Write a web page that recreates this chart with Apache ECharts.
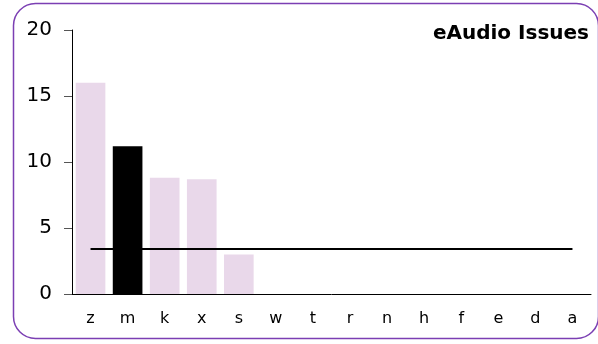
<!DOCTYPE html>
<html><head><meta charset="utf-8">
<script src="https://cdn.jsdelivr.net/npm/echarts@6/dist/echarts.min.js"></script>
<style>html,body{margin:0;padding:0;background:#fff}#c{width:598px;height:344px}</style>
</head><body><div id="c"></div>
<script>
var categories = ['z','m','k','x','s','w','t','r','n','h','f','e','d','a'];
var issues = [16.0, 11.2, 8.8, 8.7, 3.0, 0, 0, 0, 0, 0, 0, 0, 0, 0];
var highlightIndex = 1;
var averageLine = [3.4, 3.4, 3.4, 3.4, 3.4, 3.4, 3.4, 3.4, 3.4, 3.4, 3.4, 3.4, 3.4, 3.4];
var yTicks = [0, 5, 10, 15, 20];

var chart = echarts.init(document.getElementById('c'), null, {renderer: 'canvas'});
var font = 'Verdana, "DejaVu Sans", sans-serif';
chart.setOption({
  animation: false,
  title: {
    text: 'eAudio Issues', right: 4, top: 19,
    textStyle: {fontFamily: font, fontWeight: 'bold', fontSize: 20, color: '#000'}
  },
  graphic: [{
    type: 'rect', left: 11, top: 1,
    shape: {width: 585, height: 335, r: 22},
    style: {fill: 'none', stroke: '#7b3fb3', lineWidth: 1.5},
    silent: true
  }],
  grid: {left: 72, right: 7, top: 30, bottom: 50},
  xAxis: {
    type: 'category', data: categories,
    axisLine: {lineStyle: {color: '#000', width: 1}},
    axisTick: {show: false},
    axisLabel: {fontFamily: font, fontSize: 16, color: '#000', margin: 17}
  },
  yAxis: {
    type: 'value', min: yTicks[0], max: yTicks[yTicks.length-1], interval: 5,
    axisLine: {show: true, lineStyle: {color: '#000', width: 1}},
    axisTick: {show: true, inside: false, length: 8, lineStyle: {color: '#555'}},
    splitLine: {show: false},
    axisLabel: {fontFamily: font, fontSize: 20, color: '#000', margin: 20}
  },
  series: [{
    type: 'bar',
    data: issues.map(function(v, i){
      return {value: v, itemStyle: {color: i === highlightIndex ? '#000000' : '#e9d8ea'}};
    }),
    barCategoryGap: '20%'
  }, {
    type: 'line', data: averageLine, symbol: 'none',
    lineStyle: {color: '#000', width: 2}, z: 5
  }]
});
</script></body></html>
